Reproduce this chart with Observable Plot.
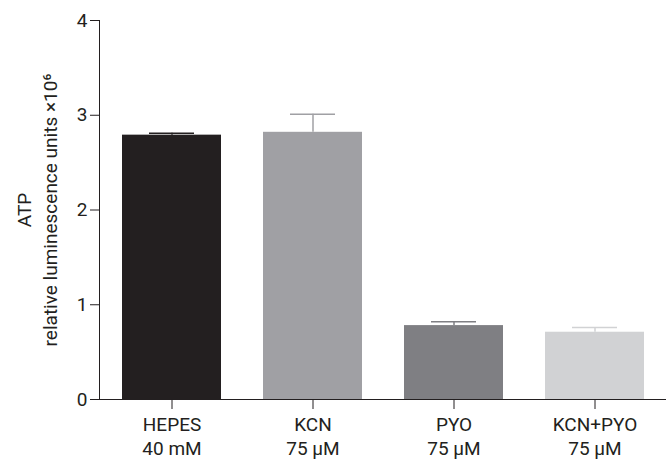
<!DOCTYPE html>
<html><head><meta charset="utf-8">
<script src="https://cdn.jsdelivr.net/npm/d3@7"></script>
<script src="https://cdn.jsdelivr.net/npm/@observablehq/plot@0.6"></script>
<style>body{margin:0;background:#fff}</style>
</head><body><div id="chart"></div>
<script>
const categories = ["HEPES", "KCN", "PYO", "KCN+PYO"];
const doses = ["40 mM", "75 µM", "75 µM", "75 µM"];
const means = [2.79, 2.82, 0.78, 0.71];
const errors = [0.02, 0.19, 0.04, 0.05];
const colors = ["#231f20", "#a0a0a4", "#7f7f83", "#d1d2d4"];
const yTicks = [0, 1, 2, 3, 4];

const data = categories.map((c, i) => ({cat: c, mean: means[i], err: errors[i], top: means[i] + errors[i], color: colors[i]}));
const ink = "#231f20";

const chart = Plot.plot({
  width: 667, height: 462,
  marginLeft: 99, marginRight: 1, marginTop: 20, marginBottom: 63,
  style: {fontFamily: "Roboto, sans-serif", fontSize: "19px", color: ink, background: "#fff"},
  x: {domain: categories, paddingInner: 0.3, paddingOuter: 0.15, align: 0.5, axis: null},
  y: {domain: [0, 4], axis: null},
  marks: [
    Plot.barY(data, {x: "cat", y: "mean", fill: "color"}),
    Plot.ruleX(data, {x: "cat", y1: "mean", y2: "top", stroke: "color", strokeWidth: 1.5}),
    Plot.tickY(data, {x: "cat", y: "top", stroke: "color", strokeWidth: 1.5, insetLeft: 27, insetRight: 27}),
    Plot.axisY({ticks: yTicks, tickSize: 9, tickPadding: 3, stroke: ink, fill: ink, fontSize: 19, label: null, tickFormat: d3.format("d")}),
    Plot.frame({anchor: "left", stroke: ink}),
    Plot.ruleY([0], {stroke: ink}),
    Plot.axisX({ticks: categories, tickSize: 10, tickPadding: 5, stroke: ink, fill: ink, fontSize: 19, label: null, lineHeight: 1.25,
      tickFormat: (d) => d + "\n" + doses[categories.indexOf(d)]}),
    Plot.text(["ATP\nrelative luminescence units ×10⁶"], {frameAnchor: "left", dx: -64, dy: 0, rotate: -90, fontSize: 19, fill: ink, lineHeight: 1.37, textAnchor: "middle"})
  ]
});
document.getElementById("chart").append(chart);
</script></body></html>
